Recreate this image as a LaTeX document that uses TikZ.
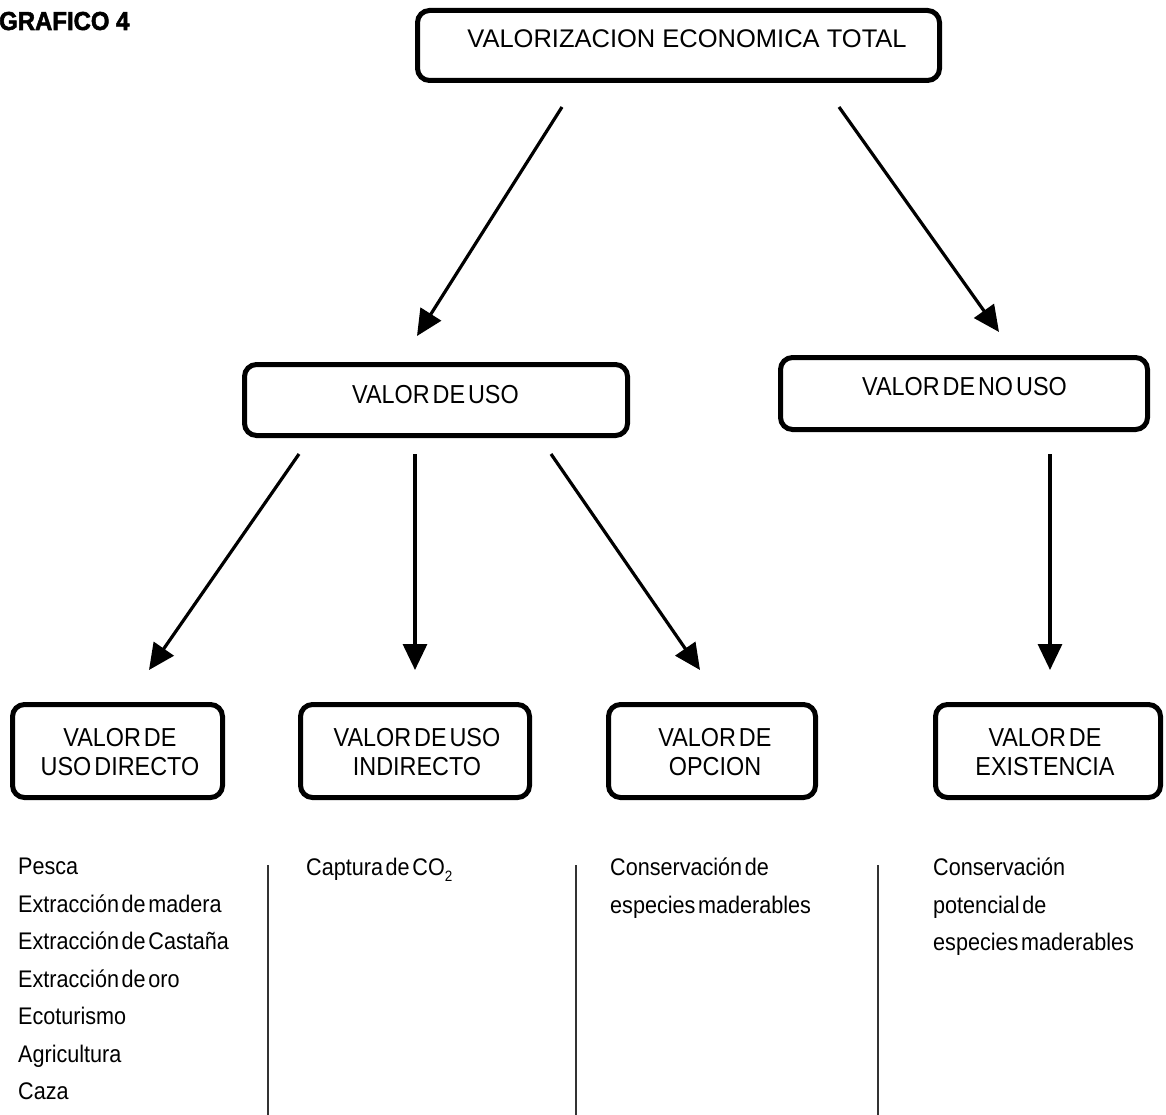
\documentclass[tikz,border=0pt]{standalone}
\usepackage{fontspec}
\setmainfont{Liberation Sans}
\newfontfamily\tightsans[WordSpace=0.45,FakeStretch=0.9]{Liberation Sans}
\newfontfamily\heavysans[FakeBold=2,FakeStretch=0.92]{Liberation Sans Bold}
\usetikzlibrary{arrows.meta}

\begin{document}
\begin{tikzpicture}[x=1pt,y=-1pt,
  box/.style={draw=black, line width=5pt, rounded corners=12pt, inner sep=0pt},
  link/.style={draw=black, line width=3.2pt, -{Triangle[length=26pt,width=24pt]}},
  rule/.style={draw=black!80, line width=2pt},
  lbl/.style={font=\tightsans\fontsize{26}{29}\selectfont, align=center, inner sep=0pt},
  item/.style={font=\tightsans\fontsize{24}{37.5}\selectfont, align=left, inner sep=0pt, anchor=north west},
]
\useasboundingbox (0,0) rectangle (1166,1115);

% heading
\node[font=\heavysans\fontsize{26}{26}\selectfont, anchor=base west, inner sep=0pt] (head) at (-1,30) {GRAFICO 4};

% boxes
\node[box, minimum width=522, minimum height=70] (vet) at (678.5,45.5) {};
\node[box, minimum width=383, minimum height=71] (uso) at (436,400) {};
\node[box, minimum width=367, minimum height=72] (nouso) at (964,393.5) {};
\node[box, minimum width=210, minimum height=93] (dir) at (117.5,751) {};
\node[box, minimum width=229, minimum height=93] (ind) at (415,751) {};
\node[box, minimum width=207, minimum height=93] (opc) at (712,751) {};
\node[box, minimum width=225, minimum height=93] (exi) at (1048,751) {};

% box labels
\node[font=\fontsize{25.5}{29}\selectfont, inner sep=0pt, anchor=base] (vetlbl) at (687,48) {VALORIZACION ECONOMICA TOTAL};
\node[lbl, anchor=base] (usolbl) at (435.5,403) {VALOR DE USO};
\node[lbl, anchor=base] (nousolbl) at (964.5,395) {VALOR DE NO USO};
\node[lbl] (dirlbl) at (120,752) {VALOR DE\\USO DIRECTO};
\node[lbl] (indlbl) at (417,752) {VALOR DE USO\\INDIRECTO};
\node[lbl] (opclbl) at (715,752) {VALOR DE\\OPCION};
\node[lbl] (exilbl) at (1045,752) {VALOR DE\\EXISTENCIA};

% arrow end points
\coordinate (a1s) at (562,107);  \coordinate (a1e) at (417,336);
\coordinate (a2s) at (839,107);  \coordinate (a2e) at (999,332);
\coordinate (a3s) at (299,454);  \coordinate (a3e) at (149,670);
\coordinate (a4s) at (415,454);  \coordinate (a4e) at (415,670);
\coordinate (a5s) at (551,454);  \coordinate (a5e) at (700,670);
\coordinate (a6s) at (1050,454); \coordinate (a6e) at (1050,670);

\draw[link] (a1s) -- (a1e);
\draw[link] (a2s) -- (a2e);
\draw[link] (a3s) -- (a3e);
\draw[link] (a4s) -- (a4e);
\draw[link] (a5s) -- (a5e);
\draw[link] (a6s) -- (a6e);

% column separators
\coordinate (r1t) at (268,865); \coordinate (r1b) at (268,1115);
\coordinate (r2t) at (576,865); \coordinate (r2b) at (576,1115);
\coordinate (r3t) at (878,865); \coordinate (r3b) at (878,1115);
\draw[rule] (r1t) -- (r1b);
\draw[rule] (r2t) -- (r2b);
\draw[rule] (r3t) -- (r3b);

% examples under each value
\node[item] (ex1) at (18,858) {Pesca\\Extracción de madera\\Extracción de Castaña\\Extracción de oro\\Ecoturismo\\Agricultura\\Caza};
\node[item] (ex2) at (306,858) {Captura de CO{\fontsize{15}{15}\selectfont\raisebox{-6pt}{2}}};
\node[item] (ex3) at (610,858) {Conservación de\\especies maderables};
\node[item] (ex4) at (933,858) {Conservación\\potencial de\\especies maderables};
\end{tikzpicture}
\end{document}
